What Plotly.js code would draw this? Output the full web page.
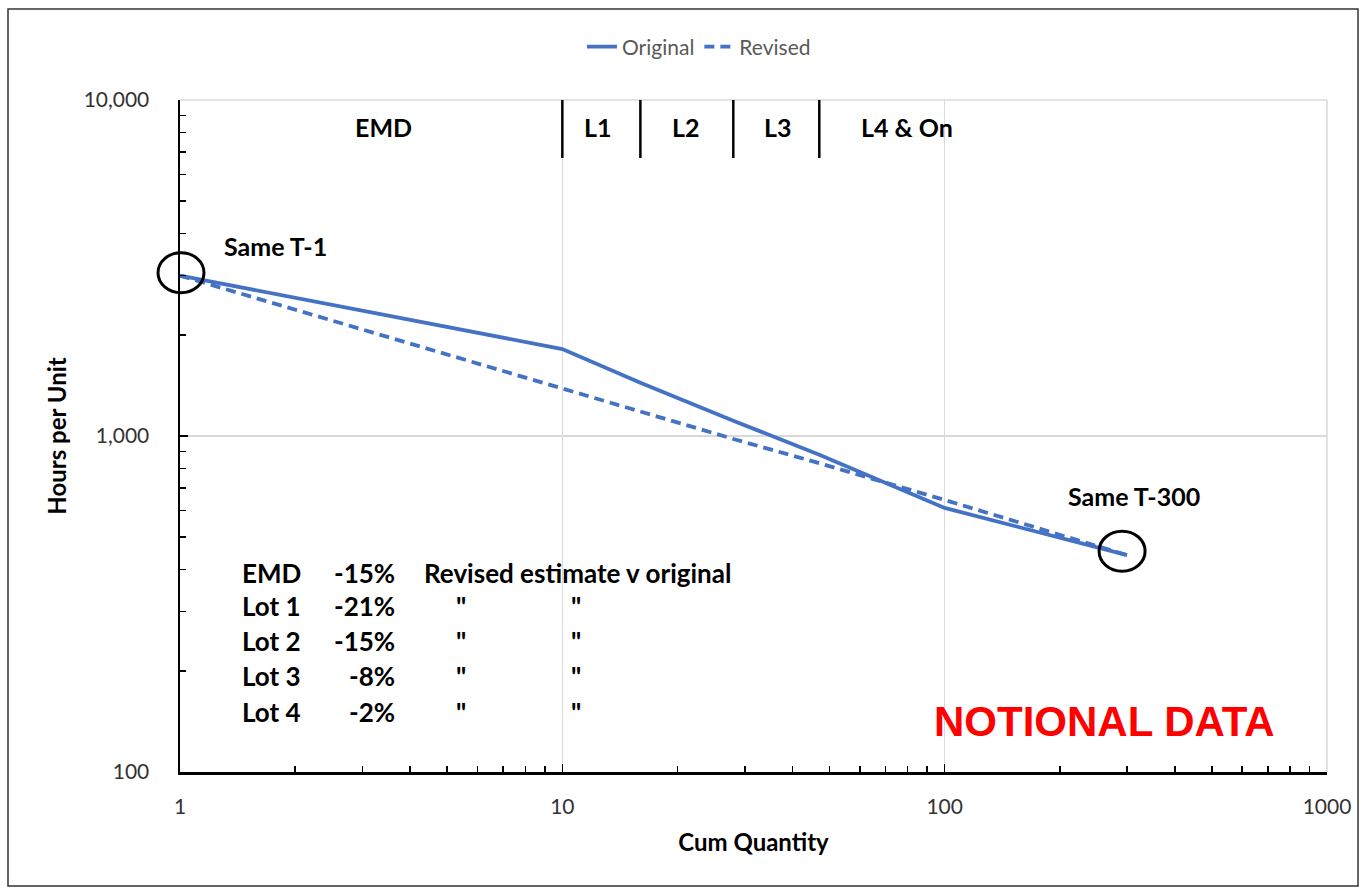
<!DOCTYPE html>
<html>
<head>
<meta charset="utf-8">
<script src="https://cdn.plot.ly/plotly-3.0.1.min.js"></script>
<style>
html,body{margin:0;padding:0;background:#fff;}
#chart{width:1364px;height:889px;}
</style>
</head>
<body>
<div id="chart"></div>
<script>
// ---- data ----
const cumQty = [1, 10, 16, 28, 47, 100, 300];
const originalHours = [3000, 1815, 1440, 1110, 880, 611, 442];
const revisedHours = [3000, 1390, 1180, 980, 830, 645, 442];
const seriesNames = ['Original', 'Revised'];

const lotBounds = [10, 16, 28, 47];
const lotLabels = ['EMD', 'L1', 'L2', 'L3', 'L4 & On'];

const tableRows = ['EMD', 'Lot 1', 'Lot 2', 'Lot 3', 'Lot 4'];
const tableDeltas = ['-15%', '-21%', '-15%', '-8%', '-2%'];
const tableNote = 'Revised estimate v original';
const dittoMark = '"';

const xTickVals = [1, 10, 100, 1000];
const xTickText = ['1', '10', '100', '1000'];
const yTickVals = [100, 1000, 10000];
const yTickText = ['100', '1,000', '10,000'];

// ---- layout helpers ----
const L = 180, R = 37, T = 100, B = 117, W = 1364, H = 889;
const PW = W - L - R, PH = H - T - B;
const px = v => (v - L) / PW;
const py = v => (H - B - v) / PH;
const xRange = [0, 3], yRange = [2, 4];
// data -> paper through the log axes
const dx2p = v => (Math.log10(v) - xRange[0]) / (xRange[1] - xRange[0]);
const dy2p = v => (Math.log10(v) - yRange[0]) / (yRange[1] - yRange[0]);

const minorVals = [];
[1, 10, 100].forEach(d => { for (let k = 2; k <= 9; k++) minorVals.push(d * k); });
const minorValsY = [];
[100, 1000].forEach(d => { for (let k = 2; k <= 9; k++) minorValsY.push(d * k); });

const blue = '#4472C4';
const fontFam = 'Lato, Carlito, Calibri, sans-serif';

const traces = [
  {x: cumQty, y: originalHours, name: seriesNames[0], mode: 'lines',
   line: {color: blue, width: 3.8}},
  {x: cumQty, y: revisedHours, name: seriesNames[1], mode: 'lines',
   line: {color: blue, width: 3.8, dash: '10px,6px'}}
];

const shapes = [];
// top and right gridlines at range edges
shapes.push({type: 'line', xref: 'paper', yref: 'paper', x0: 0, x1: 1, y0: 1, y1: 1,
  line: {color: '#d9d9d9', width: 1.5}, layer: 'below'});
shapes.push({type: 'line', xref: 'paper', yref: 'paper', x0: 1, x1: 1, y0: 0, y1: 1,
  line: {color: '#d9d9d9', width: 1.5}, layer: 'below'});
lotBounds.forEach(b => shapes.push({
  type: 'line', xref: 'x', yref: 'paper', x0: b, x1: b, y0: 1, y1: py(158),
  line: {color: '#000', width: 2.5}
}));
// circles around first & last points (46 x 40 px), small pixel offsets as in reference
const circPts = [
  {x: cumQty[0], y: originalHours[0], ox: 1, oy: -3},
  {x: cumQty[cumQty.length - 1], y: originalHours[originalHours.length - 1], ox: -5, oy: -4}
];
circPts.forEach(p => {
  const cx = dx2p(p.x) + p.ox / PW, cy = dy2p(p.y) - p.oy / PH;
  shapes.push({
    type: 'circle', xref: 'paper', yref: 'paper',
    x0: cx - 23 / PW, x1: cx + 23 / PW, y0: cy - 20 / PH, y1: cy + 20 / PH,
    line: {color: '#000', width: 3}
  });
});
// outer frame
shapes.push({type: 'rect', xref: 'paper', yref: 'paper',
  x0: px(8), x1: px(1358), y0: py(886), y1: py(9),
  line: {color: '#333', width: 1.5}, layer: 'below'});

const annotations = [];
const lblFont = {family: fontFam, size: 25, color: '#000', weight: 'bold'};
const lotLabelX = [383, 598, 686, 778, 907];
lotLabels.forEach((t, i) => annotations.push({
  text: t, xref: 'paper', yref: 'paper', x: px(lotLabelX[i]), y: py(127),
  xanchor: 'center', yanchor: 'middle', showarrow: false, font: lblFont
}));
annotations.push({text: 'Same T-1', xref: 'paper', yref: 'paper', x: px(222), y: py(246),
  xanchor: 'left', yanchor: 'middle', showarrow: false, font: lblFont});
annotations.push({text: 'Same T-300', xref: 'paper', yref: 'paper', x: px(1066), y: py(496),
  xanchor: 'left', yanchor: 'middle', showarrow: false, font: lblFont});

const rowY = [573, 606, 641, 676, 712];
const tFont = {family: fontFam, size: 26, color: '#000', weight: 'bold'};
tableRows.forEach((r, i) => {
  annotations.push({text: r, xref: 'paper', yref: 'paper', x: px(240), y: py(rowY[i]),
    xanchor: 'left', yanchor: 'middle', showarrow: false, font: tFont});
  annotations.push({text: tableDeltas[i], xref: 'paper', yref: 'paper', x: px(397), y: py(rowY[i]),
    xanchor: 'right', yanchor: 'middle', showarrow: false, font: tFont});
  if (i === 0) {
    annotations.push({text: tableNote, xref: 'paper', yref: 'paper', x: px(422), y: py(rowY[i]),
      xanchor: 'left', yanchor: 'middle', showarrow: false, font: tFont});
  } else {
    [461, 576].forEach(cx => annotations.push({text: dittoMark, xref: 'paper', yref: 'paper',
      x: px(cx), y: py(rowY[i]), xanchor: 'center', yanchor: 'middle', showarrow: false, font: tFont}));
  }
});
annotations.push({text: 'NOTIONAL DATA', xref: 'paper', yref: 'paper', x: px(1104), y: py(721),
  xanchor: 'center', yanchor: 'middle', showarrow: false,
  font: {family: 'Liberation Sans, Arial, sans-serif', size: 42, color: '#FF0000', weight: 'bold'}});

const layout = {
  width: W, height: H,
  margin: {l: L, r: R, t: T, b: B},
  paper_bgcolor: '#fff', plot_bgcolor: '#fff',
  font: {family: fontFam, color: '#333'},
  showlegend: true,
  legend: {orientation: 'h', x: px(699), y: py(47), xanchor: 'center', yanchor: 'middle',
    font: {family: fontFam, size: 21, color: '#595959'}, bgcolor: 'rgba(0,0,0,0)'},
  xaxis: {
    type: 'log', range: xRange, tickmode: 'array', tickvals: xTickVals, ticktext: xTickText,
    showgrid: true, gridcolor: '#d9d9d9', gridwidth: 1.5,
    showline: true, linecolor: '#000', linewidth: 2.5,
    ticks: 'inside', ticklen: 8, tickcolor: '#000', tickwidth: 1.5,
    minor: {tickmode: 'array', tickvals: minorVals, ticks: 'inside', ticklen: 6, tickcolor: '#000', tickwidth: 1.5, showgrid: false},
    tickfont: {family: fontFam, size: 21, color: '#333'}, ticklabelstandoff: 14,
    title: {text: 'Cum Quantity', font: {family: fontFam, size: 24, color: '#000', weight: 'bold'}, standoff: 18},
    zeroline: false, mirror: false
  },
  yaxis: {
    type: 'log', range: yRange, tickmode: 'array', tickvals: yTickVals, ticktext: yTickText,
    showgrid: true, gridcolor: '#d9d9d9', gridwidth: 1.5,
    showline: true, linecolor: '#000', linewidth: 2.5,
    ticks: 'inside', ticklen: 8, tickcolor: '#000', tickwidth: 1.5,
    minor: {tickmode: 'array', tickvals: minorValsY, ticks: 'inside', ticklen: 6, tickcolor: '#000', tickwidth: 1.5, showgrid: false},
    tickfont: {family: fontFam, size: 21, color: '#333'}, ticklabelstandoff: 24,
    title: {text: 'Hours per Unit', font: {family: fontFam, size: 24, color: '#000', weight: 'bold'}, standoff: 10},
    zeroline: false
  },
  shapes: shapes,
  annotations: annotations
};

Plotly.newPlot('chart', traces, layout, {displayModeBar: false, staticPlot: true});
</script>
</body>
</html>
